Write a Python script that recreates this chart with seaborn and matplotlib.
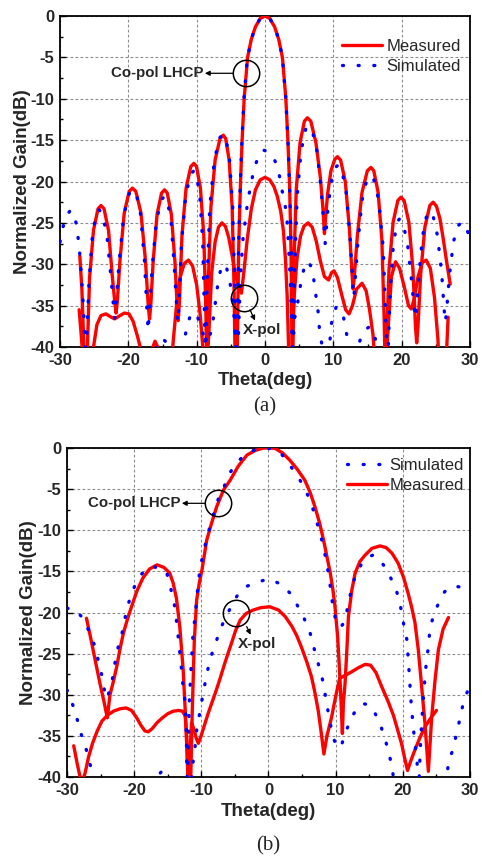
import numpy as np
import pandas as pd
import matplotlib
matplotlib.use("Agg")
import matplotlib.pyplot as plt
import seaborn as sns
from matplotlib.lines import Line2D
from matplotlib.ticker import MultipleLocator

# ---------------- data (theta in deg, normalized gain in dB) ----------------
# Panel (a)
A_MEAS_CO = np.array([
    (-27.1, -29.0), (-26.8, -33.0), (-26.55, -39.0), (-26.4, -43.0),
    (-26.02, -40.9), (-25.67, -31.6), (-25.1, -25.9), (-24.44, -23.3), (-24.0, -22.9),
    (-23.56, -23.3), (-22.9, -25.9), (-22.33, -31.6), (-21.98, -34.6), (-21.8, -35.9),
    (-21.61, -34.5), (-21.22, -29.5), (-20.6, -23.8), (-19.88, -21.2), (-19.4, -20.8),
    (-18.9, -21.2), (-18.15, -23.8), (-17.5, -29.5), (-17.1, -34.8), (-16.9, -36.6),
    (-16.72, -35.0), (-16.37, -29.7), (-15.8, -24.0), (-15.14, -21.4), (-14.7, -21.0),
    (-14.3, -21.4), (-13.7, -24.0), (-13.18, -29.7), (-12.86, -35.0), (-12.7, -36.8),
    (-12.52, -34.5), (-12.15, -26.5), (-11.55, -20.8), (-10.86, -18.2), (-10.4, -17.8),
    (-10.02, -18.2), (-9.45, -20.8), (-8.96, -26.5), (-8.65, -35.8), (-8.5, -43.0),
    (-8.31, -32.4), (-7.92, -23.1), (-7.3, -17.4), (-6.58, -14.8), (-6.1, -14.4),
    (-5.76, -14.8), (-5.25, -17.4), (-4.81, -23.1), (-4.54, -32.4), (-4.35, -43.0),
    (-4.05, -40.0), (-3.85, -28.0), (-3.6, -20.5), (-3.35, -15.0), (-3.05, -10.0),
    (-2.55, -5.0), (-2.0, -2.8), (-1.4, -1.3), (-0.7, -0.3), (0.0, 0.0), (0.7, -0.3),
    (1.4, -1.3), (2.0, -2.8), (2.55, -5.0), (3.05, -10.0), (3.35, -15.0), (3.6, -20.5),
    (3.8, -28.0), (3.95, -40.0), (4.05, -43.0),
    (4.22, -30.3), (4.57, -21.0), (5.13, -15.3), (5.77, -12.7), (6.2, -12.3),
    (6.7, -12.7), (7.45, -15.3), (8.1, -19.5), (8.5, -23.5), (8.7, -26.3),
    (8.85, -24.5), (9.16, -21.5), (9.65, -18.7), (10.22, -17.3), (10.6, -17.0),
    (11.06, -17.4), (11.75, -20.0), (12.35, -25.7), (12.72, -31.0), (12.9, -33.0),
    (13.11, -31.0), (13.52, -26.5), (14.2, -21.3), (14.98, -18.7), (15.5, -18.3),
    (15.92, -18.7), (16.55, -21.3), (17.1, -27.0), (17.43, -36.3), (17.6, -43.0),
    (17.78, -39.5), (18.15, -30.6), (18.75, -24.9), (19.44, -22.3), (19.9, -21.9),
    (20.36, -22.3), (21.05, -24.9), (21.65, -30.6), (22.02, -37.5), (22.2, -39.5),
    (22.39, -37.5), (22.78, -31.2), (23.4, -25.5), (24.12, -22.9), (24.6, -22.5),
    (25.1, -23.0), (25.6, -24.5), (26.1, -27.0), (26.6, -29.8), (27.1, -32.4),
])

A_MEAS_X = np.array([
    (-27.2, -35.5), (-26.9, -38.5), (-26.5, -43.0), (-25.6, -43.0), (-25.1, -40.0),
    (-24.6, -37.3), (-24.0, -36.2), (-23.3, -36.0), (-22.5, -36.4), (-22.0, -36.6),
    (-21.4, -36.3), (-20.6, -35.9), (-19.9, -36.0), (-19.3, -36.9), (-18.7, -38.6),
    (-18.1, -40.5), (-17.5, -43.0), (-17.0, -43.0), (-16.5, -40.2), (-16.1, -39.3),
    (-15.7, -40.0), (-15.2, -43.0), (-13.8, -43.0), (-13.4, -39.0), (-12.9, -34.5),
    (-12.4, -31.5), (-11.8, -29.9), (-11.2, -29.5), (-10.6, -30.2), (-10.0, -32.5),
    (-9.5, -36.0), (-9.1, -40.0), (-8.8, -44.0), (-8.6, -44.0), (-8.2, -38.0),
    (-7.8, -31.0), (-7.3, -27.3), (-6.8, -25.5), (-6.3, -25.0), (-5.8, -25.4),
    (-5.3, -26.8), (-4.8, -29.0), (-4.3, -31.3), (-3.8, -33.0), (-3.45, -33.5),
    (-3.1, -31.0), (-2.6, -27.0), (-2.0, -23.3), (-1.4, -21.0), (-0.7, -19.8),
    (0.0, -19.5), (0.7, -19.8), (1.3, -20.6), (1.8, -21.8), (2.3, -23.6), (2.7, -26.0),
    (3.0, -29.5), (3.25, -34.0), (3.45, -40.0), (3.6, -44.0), (3.75, -44.0),
    (4.0, -40.0), (4.3, -33.5), (4.7, -29.2), (5.2, -26.6), (5.7, -25.4), (6.3, -25.0),
    (6.9, -25.5), (7.5, -27.2), (8.1, -29.6), (8.7, -31.5), (9.3, -31.9), (9.75, -31.0),
    (10.1, -30.8), (10.6, -31.6), (11.2, -33.6), (11.8, -35.5), (12.3, -36.0),
    (12.8, -35.0), (13.4, -33.0), (14.2, -32.3), (14.8, -33.2), (15.3, -35.5),
    (15.8, -38.5), (16.2, -43.0), (17.6, -44.0), (18.0, -38.0), (18.5, -31.5),
    (19.1, -29.7), (19.7, -30.5), (20.4, -32.8), (21.0, -35.0), (21.4, -35.4),
    (21.8, -34.3), (22.4, -31.5), (23.0, -29.8), (23.6, -29.5), (24.2, -30.5),
    (24.8, -34.0), (25.3, -39.0), (25.6, -44.0), (26.4, -44.0), (26.6, -40.0),
    (26.8, -36.4),
])

A_SIM_CO = np.array([
    (-30.0, -27.3), (-29.6, -25.6), (-29.1, -24.2), (-28.5, -23.5), (-28.0, -23.8),
    (-27.6, -25.2), (-27.2, -27.8), (-26.9, -31.0), (-26.6, -34.8), (-26.35, -39.5),
    (-26.2, -42.0), (-26.05, -38.0), (-25.74, -32.0), (-25.25, -26.4), (-24.68, -23.8),
    (-24.3, -23.4), (-23.84, -23.8), (-23.15, -26.4), (-22.55, -31.5), (-22.18, -35.0),
    (-22.0, -36.5), (-21.78, -34.5), (-21.35, -29.7), (-20.65, -24.0), (-19.84, -21.4),
    (-19.3, -21.0), (-18.86, -21.4), (-18.2, -24.0), (-17.63, -29.7), (-17.28, -35.5),
    (-17.1, -38.0), (-16.91, -35.5), (-16.52, -30.5), (-15.9, -24.8), (-15.18, -22.2),
    (-14.7, -21.8), (-14.32, -22.2), (-13.75, -24.8), (-13.26, -30.5), (-12.95, -35.0),
    (-12.8, -37.0), (-12.61, -35.3), (-12.22, -27.4), (-11.6, -21.7), (-10.88, -19.1),
    (-10.4, -18.7), (-10.06, -19.1), (-9.55, -21.7), (-9.11, -27.4), (-8.84, -36.7),
    (-8.7, -42.0), (-8.49, -32.3), (-8.08, -23.0), (-7.4, -17.3), (-6.62, -14.7),
    (-6.1, -14.3), (-5.74, -14.7), (-5.2, -17.3), (-4.73, -23.0), (-4.44, -32.3),
    (-4.3, -42.0), (-4.1, -40.0), (-3.88, -28.0), (-3.62, -20.5), (-3.38, -15.0),
    (-3.08, -10.0), (-2.6, -5.2), (-2.0, -2.8), (-1.4, -1.3), (-0.7, -0.3), (0.0, 0.0),
    (0.7, -0.3), (1.4, -1.3), (2.0, -2.8), (2.55, -5.0), (3.05, -10.0), (3.35, -15.0),
    (3.6, -20.5), (3.85, -28.0), (4.05, -40.0), (4.15, -42.0), (4.33, -31.3),
    (4.69, -22.0), (5.28, -16.3), (5.95, -13.7), (6.4, -13.3), (6.88, -13.7),
    (7.6, -16.3), (8.22, -21.0), (8.6, -25.0), (8.8, -27.5), (8.95, -26.0), (9.26, -22.8),
    (9.75, -19.8), (10.32, -18.3), (10.7, -18.0), (11.16, -18.4), (11.85, -21.0),
    (12.45, -26.7), (12.82, -32.0), (13.0, -34.0), (13.19, -32.0), (13.58, -27.5),
    (14.2, -22.3), (14.92, -19.7), (15.4, -19.3), (15.9, -19.7), (16.65, -22.3),
    (17.3, -28.0), (17.7, -37.3), (17.9, -42.0), (18.04, -40.0), (18.33, -33.2),
    (18.8, -27.5), (19.34, -24.9), (19.7, -24.5), (20.16, -24.9), (20.85, -27.5),
    (21.45, -32.0), (21.82, -35.3), (22.0, -36.5), (22.17, -35.3), (22.5, -31.5),
    (23.05, -26.6), (23.68, -24.0), (24.1, -23.6), (24.56, -24.0), (25.25, -26.6),
    (25.85, -31.0), (26.22, -35.5), (26.4, -37.0), (26.59, -35.5), (26.98, -31.4),
    (27.6, -27.2), (28.32, -25.3), (28.8, -24.9), (29.3, -25.3), (30.0, -26.8),
])

A_SIM_X = np.array([
    (-16.5, -42.0), (-15.6, -39.6), (-15.1, -38.9), (-14.6, -39.3), (-14.1, -40.5),
    (-13.5, -42.0), (-12.3, -42.0), (-11.9, -39.5), (-11.4, -37.5), (-10.9, -36.1),
    (-10.4, -35.8), (-9.9, -36.3), (-9.4, -37.5), (-8.9, -38.8), (-8.4, -39.2),
    (-7.9, -38.2), (-7.5, -36.2), (-7.1, -33.5), (-6.7, -31.3), (-6.2, -30.0),
    (-5.7, -30.2), (-5.2, -31.8), (-4.8, -34.0), (-4.45, -37.0), (-4.2, -42.0),
    (-3.95, -40.0), (-3.6, -31.5), (-3.2, -26.7), (-2.9, -24.8), (-2.5, -22.2),
    (-2.1, -20.6), (-1.7, -18.8), (-1.2, -17.5), (-0.7, -16.5), (-0.3, -16.2),
    (0.2, -16.3), (0.7, -16.6), (1.2, -17.0), (1.7, -18.0), (2.1, -19.3), (2.5, -21.1),
    (2.9, -22.6), (3.2, -24.3), (3.45, -27.8), (3.7, -32.0), (3.9, -37.0), (4.0, -42.0),
    (4.2, -37.0), (4.7, -35.2), (5.0, -33.3), (5.4, -31.7), (5.9, -29.7), (6.4, -29.8),
    (6.9, -30.5), (7.2, -32.2), (7.5, -34.1), (7.8, -35.9), (7.95, -37.7), (8.3, -39.6),
    (8.8, -42.0), (9.3, -40.5), (9.6, -38.5), (9.8, -36.6), (10.4, -35.2), (10.9, -35.3),
    (11.4, -36.0), (11.8, -37.8), (12.2, -39.6), (12.7, -41.5), (13.3, -41.0),
    (13.7, -39.7), (14.2, -38.5), (14.7, -37.9), (15.2, -37.6), (15.7, -37.7),
    (16.3, -39.5), (16.8, -42.0),
])

# Panel (b)
B_MEAS_CO = np.array([
    (-27.1, -20.7), (-26.6, -22.6), (-26.1, -24.6), (-25.6, -26.6), (-25.1, -28.6),
    (-24.5, -30.8), (-24.0, -32.8), (-23.6, -30.0), (-23.1, -28.4), (-22.6, -26.6),
    (-22.1, -24.4), (-21.6, -22.5), (-21.0, -20.8), (-20.4, -19.3), (-19.6, -17.4),
    (-18.7, -15.8), (-17.7, -14.7), (-16.6, -14.2), (-15.6, -14.5), (-14.7, -15.2),
    (-14.2, -16.4), (-13.7, -18.3), (-13.2, -21.8), (-12.7, -27.0), (-12.3, -33.5),
    (-11.95, -41.0), (-11.6, -41.0), (-11.35, -32.0), (-11.05, -23.5), (-10.7, -18.5),
    (-10.3, -16.4), (-9.9, -14.8), (-9.2, -11.2), (-8.5, -9.2), (-7.7, -7.1),
    (-6.7, -5.1), (-5.7, -3.9), (-4.5, -2.2), (-3.2, -0.85), (-2.0, -0.3), (-0.8, 0.0),
    (0.3, 0.0), (1.0, -0.05), (2.1, -0.6), (3.2, -1.5), (4.3, -2.6), (5.4, -3.9),
    (6.2, -5.4), (6.9, -7.1), (7.6, -9.1), (8.2, -11.2), (8.7, -13.2), (9.2, -15.2),
    (9.6, -17.3), (9.9, -19.3), (10.3, -23.0), (10.7, -29.0), (11.0, -34.7),
    (11.15, -31.0), (11.4, -28.6), (11.7, -24.0), (11.9, -20.5), (12.4, -17.3),
    (12.9, -15.2), (13.6, -13.8), (14.4, -13.0), (15.4, -12.2), (16.6, -11.9),
    (17.5, -12.1), (18.4, -12.8), (19.3, -14.0), (20.1, -15.7), (20.8, -17.7),
    (21.3, -19.3), (21.8, -21.2), (22.3, -24.5), (22.8, -29.0), (23.3, -33.5),
    (23.8, -39.3), (24.3, -32.7), (24.8, -28.2), (25.3, -24.5), (26.0, -22.0),
    (26.8, -20.6),
])

B_MEAS_X = np.array([
    (-29.0, -36.2), (-28.5, -38.3), (-28.0, -40.2), (-27.7, -40.5), (-27.3, -39.5),
    (-26.8, -37.6), (-26.2, -35.9), (-25.5, -34.4), (-24.8, -33.2), (-24.0, -32.5),
    (-23.1, -32.0), (-22.1, -31.7), (-21.2, -31.6), (-20.4, -31.9), (-19.7, -32.7),
    (-19.0, -33.7), (-18.4, -34.4), (-17.9, -34.5), (-17.3, -34.1), (-16.6, -33.4),
    (-15.8, -32.8), (-15.0, -32.3), (-14.2, -32.0), (-13.4, -31.9), (-12.8, -32.0),
    (-12.4, -32.6), (-12.15, -35.5), (-11.95, -41.0), (-11.75, -38.0), (-11.45, -33.4),
    (-11.1, -34.2), (-10.75, -35.3), (-10.45, -35.9), (-10.0, -34.9), (-9.5, -33.6),
    (-9.0, -32.3), (-8.4, -30.9), (-7.8, -29.5), (-7.2, -28.0), (-6.6, -26.4),
    (-6.0, -24.9), (-5.5, -23.7), (-4.9, -22.2), (-4.2, -20.9), (-3.3, -20.1),
    (-2.3, -19.7), (-1.1, -19.4), (0.2, -19.3), (1.5, -19.7), (2.5, -20.5),
    (3.5, -21.7), (4.2, -22.8), (4.9, -24.2), (5.7, -26.0), (6.4, -27.8), (6.9, -29.7),
    (7.4, -31.9), (7.8, -34.3), (8.25, -37.2), (8.7, -35.0), (9.4, -32.7), (10.0, -30.2),
    (10.6, -28.0), (11.5, -27.6), (12.4, -27.2), (13.4, -26.7), (14.4, -26.3),
    (15.2, -26.4), (16.0, -27.3), (16.85, -29.0), (17.8, -30.8), (18.6, -32.5),
    (19.2, -34.2), (19.8, -35.9), (20.3, -37.8), (20.7, -39.2), (21.2, -38.0),
    (21.8, -36.7), (22.5, -35.3), (23.3, -33.9), (24.1, -32.9), (25.0, -31.9),
])

B_SIM_CO = np.array([
    (-30.0, -19.5), (-29.3, -19.5), (-28.5, -19.9), (-27.6, -20.7), (-26.6, -22.5),
    (-25.8, -24.2), (-25.3, -26.0), (-24.8, -27.7), (-24.4, -29.6), (-24.1, -30.5),
    (-23.7, -29.6), (-23.3, -28.4), (-22.6, -24.8), (-21.9, -22.9), (-21.1, -19.6),
    (-20.4, -17.7), (-19.5, -16.0), (-18.4, -14.8), (-17.3, -14.4), (-16.3, -14.6),
    (-15.2, -15.0), (-14.4, -17.6), (-13.9, -19.5), (-13.4, -23.3), (-13.0, -26.5),
    (-12.7, -29.2), (-12.4, -30.9), (-12.25, -34.0), (-12.1, -42.0), (-11.95, -36.0),
    (-11.8, -31.0), (-11.5, -26.3), (-11.2, -22.1), (-10.9, -20.5), (-10.7, -18.3),
    (-10.45, -16.5), (-10.2, -14.6), (-9.7, -12.8), (-9.2, -11.0), (-8.6, -9.2),
    (-8.0, -7.5), (-7.4, -6.0), (-6.7, -4.9), (-6.0, -3.4), (-5.0, -2.0), (-3.5, -0.8),
    (-2.0, -0.2), (-0.5, 0.0), (0.8, -0.1), (2.0, -0.8), (3.2, -2.1), (4.4, -3.5),
    (5.4, -4.9), (6.3, -6.6), (7.0, -8.4), (7.6, -10.2), (8.2, -12.0), (8.6, -13.8),
    (9.0, -15.6), (9.3, -17.5), (9.6, -19.3), (10.1, -21.3), (10.7, -21.8),
    (11.3, -21.2), (11.8, -19.3), (12.4, -17.0), (12.9, -15.6), (13.9, -14.0),
    (14.7, -13.3), (15.6, -13.0), (16.4, -13.4), (17.1, -14.2), (18.1, -15.6),
    (19.1, -17.5), (19.6, -19.0), (20.1, -21.3), (20.6, -23.3), (20.9, -26.8),
    (21.2, -30.6), (21.5, -33.5), (21.8, -35.9), (22.1, -37.9), (22.35, -42.0),
    (22.6, -36.5), (22.8, -33.5), (23.1, -29.8), (23.5, -26.0), (23.8, -24.2),
    (24.0, -22.3), (24.5, -20.5), (25.3, -18.9), (26.2, -17.5), (27.0, -16.9),
    (27.8, -16.8), (28.5, -16.9), (29.3, -17.2), (30.0, -17.7),
])

B_SIM_X = np.array([
    (-30.0, -29.4), (-29.6, -30.2), (-29.2, -31.1), (-28.7, -32.3), (-28.2, -33.9),
    (-27.7, -35.3), (-27.2, -36.4), (-26.8, -37.9), (-26.1, -39.6), (-25.6, -42.0),
    (-16.9, -42.0), (-16.4, -39.8), (-15.9, -39.3), (-15.4, -39.8), (-14.9, -42.0),
    (-11.8, -42.0), (-11.4, -39.8), (-11.2, -37.9), (-10.9, -36.1), (-10.7, -34.3),
    (-10.3, -32.5), (-9.9, -30.6), (-9.45, -28.6), (-9.0, -26.8), (-8.5, -25.2),
    (-7.7, -23.3), (-7.0, -21.7), (-6.2, -20.3), (-5.2, -18.7), (-4.4, -17.6),
    (-3.5, -16.9), (-2.0, -16.4), (0.0, -15.9), (2.0, -16.6), (3.5, -17.9),
    (4.4, -19.3), (5.3, -20.7), (6.2, -22.5), (6.8, -24.4), (7.4, -26.2), (8.0, -28.0),
    (8.4, -29.8), (8.8, -31.7), (9.2, -33.5), (9.6, -35.1), (10.2, -36.4),
    (10.8, -36.3), (11.5, -34.5), (12.3, -32.9), (13.3, -31.4), (14.2, -31.1),
    (14.9, -31.2), (15.6, -31.8), (16.6, -33.5), (17.3, -35.2), (17.9, -37.0),
    (18.4, -38.8), (18.9, -42.0), (26.2, -42.0), (26.8, -38.3), (27.5, -36.5),
    (28.0, -34.7), (28.5, -32.9), (29.0, -31.0), (29.7, -29.4), (30.0, -29.0),
])

X_TICKS = [-30, -20, -10, 0, 10, 20, 30]
Y_TICKS = [0, -5, -10, -15, -20, -25, -30, -35, -40]
PANEL_LABELS = ["(a)", "(b)"]

# ---------------- style ----------------
sns.set_theme(style="white")
plt.rcParams['font.family'] = ['Liberation Sans', 'DejaVu Sans']
plt.rcParams['axes.unicode_minus'] = False

RED = '#ff0000'
BLUE = '#0000ff'
LW = 2.4
DOTS = (0, (0.3, 4.4))

fig = plt.figure(figsize=(4.82, 8.57), dpi=100)
ax1 = fig.add_axes([0.1245, 0.5951, 0.8506, 0.3862])
ax2 = fig.add_axes([0.139, 0.0933, 0.8361, 0.3839])


def draw(ax, arr, color, dotted, z):
    df = pd.DataFrame({'theta': arr[:, 0], 'gain': arr[:, 1]})
    if dotted:
        kw = dict(linestyle=DOTS, dash_capstyle='round', linewidth=LW)
    else:
        kw = dict(linestyle='-', linewidth=LW, solid_joinstyle='round')
    sns.lineplot(data=df, x='theta', y='gain', ax=ax, color=color,
                 estimator=None, sort=False, zorder=z, legend=False, **kw)


def style_axes(ax, xlab_y, ylab_x):
    ax.set_xlim(-30, 30)
    ax.set_ylim(-40, 0)
    ax.set_xticks(X_TICKS)
    ax.set_yticks(Y_TICKS)
    ax.xaxis.set_minor_locator(MultipleLocator(5))
    ax.yaxis.set_minor_locator(MultipleLocator(2.5))
    ax.tick_params(which='both', direction='in', top=False, right=False,
                   bottom=True, left=True, color='black')
    ax.tick_params(which='major', length=4.5, width=1.0, labelsize=12, pad=4)
    ax.tick_params(which='minor', length=2.5, width=1.0)
    for lab in ax.get_xticklabels() + ax.get_yticklabels():
        lab.set_fontweight('bold')
    ax.grid(True, which='major', color='#8c8c8c', linestyle=(0, (2.5, 2)), linewidth=0.8)
    ax.set_axisbelow(True)
    for s in ax.spines.values():
        s.set_color('black')
        s.set_linewidth(1.3)
    ax.set_xlabel('Theta(deg)', fontsize=13.5, fontweight='bold')
    ax.set_ylabel('Normalized Gain(dB)', fontsize=13.5, fontweight='bold')
    ax.xaxis.set_label_coords(0.5, xlab_y)
    ax.yaxis.set_label_coords(ylab_x, 0.5)


# panel (a)
draw(ax1, A_MEAS_CO, RED, False, 3)
draw(ax1, A_MEAS_X, RED, False, 3)
draw(ax1, A_SIM_CO, BLUE, True, 4)
draw(ax1, A_SIM_X, BLUE, True, 4)
style_axes(ax1, -0.075, -0.07)

# panel (b)
draw(ax2, B_MEAS_CO, RED, False, 3)
draw(ax2, B_MEAS_X, RED, False, 3)
draw(ax2, B_SIM_CO, BLUE, True, 4)
draw(ax2, B_SIM_X, BLUE, True, 4)
style_axes(ax2, -0.08, -0.075)

h_meas = Line2D([], [], color=RED, lw=LW)
h_sim = Line2D([], [], color=BLUE, lw=LW, linestyle=DOTS, dash_capstyle='round')
ax1.legend([h_meas, h_sim], ['Measured', 'Simulated'], loc='upper left',
           bbox_to_anchor=(0.688, 0.93), frameon=False, fontsize=12,
           handlelength=2.4, handletextpad=0.25, labelspacing=0.3,
           borderpad=0, borderaxespad=0)
ax2.legend([h_sim, h_meas], ['Simulated', 'Measured'], loc='upper left',
           bbox_to_anchor=(0.695, 0.97), frameon=False, fontsize=12,
           handlelength=2.4, handletextpad=0.15, labelspacing=0.3,
           borderpad=0, borderaxespad=0)

# annotations
def circle(ax, x, y):
    ax.plot([x], [y], marker='o', ms=19, mfc='none', mec='black', mew=1.1,
            linestyle='none', zorder=6)

arrow = dict(arrowstyle='-|>', color='black', lw=0.9, mutation_scale=7,
             shrinkA=0, shrinkB=0)

circle(ax1, -2.74, -6.92)
ax1.annotate('', xy=(-8.8, -6.92), xytext=(-4.68, -6.92), arrowprops=arrow, zorder=6)
ax1.text(-8.95, -6.92, 'Co-pol LHCP', ha='right', va='center', fontsize=10.8,
         fontweight='bold', zorder=6)
circle(ax1, -3.03, -34.1)
ax1.annotate('', xy=(-1.46, -36.8), xytext=(-2.2, -35.5), arrowprops=arrow, zorder=6)
ax1.text(-0.37, -37.9, 'X-pol', ha='center', va='center', fontsize=11,
         fontweight='bold', zorder=6)

circle(ax2, -7.47, -6.72)
ax2.annotate('', xy=(-12.9, -6.72), xytext=(-9.45, -6.72), arrowprops=arrow, zorder=6)
ax2.text(-13.1, -6.72, 'Co-pol LHCP', ha='right', va='center', fontsize=10.8,
         fontweight='bold', zorder=6)
circle(ax2, -4.84, -20.02)
ax2.annotate('', xy=(-2.65, -22.7), xytext=(-3.25, -21.7), arrowprops=arrow, zorder=6)
ax2.text(-1.71, -23.8, 'X-pol', ha='center', va='center', fontsize=11,
         fontweight='bold', zorder=6)

fig.text(265 / 482, 1 - 407 / 857, PANEL_LABELS[0], ha='center', va='center',
         fontsize=15, family='Liberation Serif')
fig.text(268 / 482, 1 - 846 / 857, PANEL_LABELS[1], ha='center', va='center',
         fontsize=15, family='Liberation Serif')

fig.savefig('out.png', dpi=100)
